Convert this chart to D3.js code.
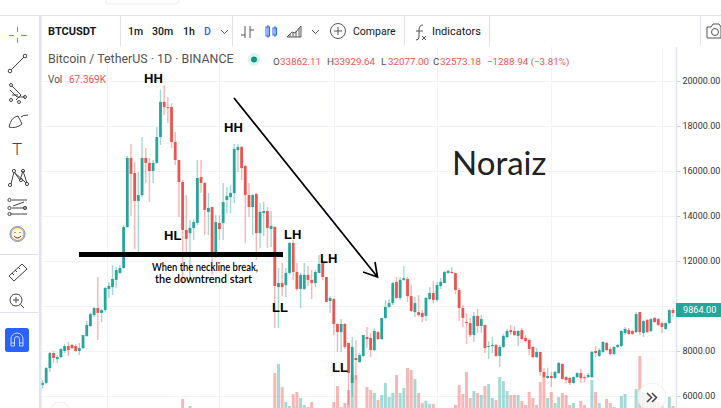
<!DOCTYPE html>
<html><head><meta charset="utf-8">
<script src="https://cdn.jsdelivr.net/npm/d3@7/dist/d3.min.js"></script>
<style>html,body{margin:0;padding:0;background:#fff;overflow:hidden}svg{display:block}text{font-family:Roboto,"Open Sans",sans-serif}</style>
</head><body><svg id="c" width="721" height="408"></svg>
<script>
const opens=[6490,6580,7240,7910,7640,7730,8000,8220,8270,8220,8000,8130,8670,9110,9600,9910,9690,9820,10760,10840,11160,11470,11690,13510,16580,15910,14670,14930,16580,16360,16000,16360,17510,19070,18840,18840,17290,16490,15510,13380,13240,13470,13690,15730,15470,14180,14400,12360,13690,13690,14710,14840,15020,16930,17070,16220,14930,14400,14980,13240,14130,14220,13420,13510,10840,11020,10930,11470,12800,11510,10760,10760,11380,11160,11020,11470,11910,11290,10220,10310,9200,8840,9200,8360,6580,7690,7510,7780,8620,8580,8040,8840,8530,9470,9960,10130,11070,10360,11160,11200,10440,9730,9730,9690,9560,10310,10580,10270,10890,11020,11470,11510,11470,10710,9910,9290,9240,8710,9560,9110,9160,8180,8220,8270,7780,8180,8620,8930,8890,8670,8930,8580,8490,8180,7730,7960,7070,6800,6890,6800,7020,7420,6840,6800,6580,6840,7020,6840,6840,6840,8000,7780,7960,8360,8090,7870,8180,8220,8800,8930,8890,8840,9730,8800,9380,8890,9470,9420,9240,8980,9240,9820];
const closes=[6580,7240,7910,7690,7730,8090,8220,8040,8130,8000,8130,8710,9160,9640,9910,9690,9820,10800,10890,11200,11600,11690,13510,16580,15870,14670,14930,16580,16360,16000,16360,17510,19070,18840,18800,17290,16490,15510,13380,12980,13470,13730,15690,15470,14270,14360,12360,13730,13420,14620,14890,15020,16980,17070,16130,14930,14400,14930,13240,14180,14220,13470,13560,10890,11020,10840,11470,12800,11510,10760,11380,11380,11160,11020,11510,11870,11290,10180,10360,9200,8840,9200,8180,7020,8180,7600,7820,8710,8530,8040,8890,8530,9470,9960,10130,11020,10360,11160,11240,10440,9780,10130,9600,9510,10360,10580,10270,10930,11070,11510,11560,11470,10710,9910,9470,9240,8710,9560,9110,9420,8130,8220,8270,7780,8180,8670,8890,8840,8710,8890,8530,8440,8090,7730,7960,7070,6840,6890,6800,7070,7470,6760,6710,6580,6840,7020,6800,6800,6930,7960,7910,8040,8400,8040,7870,8180,8270,8890,8980,8760,8760,9640,8840,9330,8840,9420,9290,9160,9070,9240,9820,9690];
const highs=[6710,7290,7960,8000,7820,8130,8310,8400,8310,8310,8360,8710,9330,9690,9960,11290,9870,10840,11070,11820,11730,11820,13600,16670,17200,16400,15960,17510,17020,16580,16490,17960,19600,19820,19290,19020,17730,16490,15600,14930,13820,13870,16490,16490,15510,15020,14400,14040,14040,15470,15290,15380,17200,17200,17110,16270,15470,14980,15020,14580,14620,14400,14220,13560,11690,11910,11690,12840,12930,11910,11470,11910,11780,11600,11600,12270,12040,11290,10440,10360,9240,9420,9240,8360,8620,8490,7910,8710,9070,8800,9020,8890,9470,10270,10310,11070,11290,11290,11780,11290,10930,10400,10490,9820,10400,10840,11110,11070,11240,11560,11600,11730,11470,10800,10040,9690,9470,9730,9870,9600,9160,8440,8620,8310,8270,8760,8980,9160,9110,8930,9020,8710,8580,8220,8130,7960,7240,7240,7070,7110,7510,7470,6890,6840,6890,7070,7200,6930,7020,8000,8220,8130,8440,8400,8180,8220,8310,8930,9070,9020,8930,9730,9730,9380,9420,9470,9510,9470,9290,9290,9870,9910];
const lows=[6310,6530,7070,7470,7470,7690,7910,7780,8090,7960,7820,8090,8620,9070,9510,8490,9290,9730,10360,10490,10800,11420,11640,13470,14000,12530,12400,14840,15470,14620,15470,16310,17160,18490,18130,17020,16270,13960,11020,12180,11160,12930,13600,15020,13160,13160,11380,12130,12930,12930,14130,14130,14580,15960,15600,12800,13960,13160,12040,12580,13110,12580,12620,9020,9020,10440,10400,11380,11160,10670,9910,10710,10890,10310,10840,11470,11160,10180,9690,8710,7960,7960,8090,5600,5960,6710,7470,7730,8130,7730,8000,8490,8490,9420,9910,10040,10310,10270,11110,10180,9730,9510,9510,9290,9330,10270,10130,10180,10760,11020,11420,11420,10530,9330,9070,8310,8620,8400,8800,8800,7910,7640,7910,7730,7290,8130,8580,8710,8670,8220,8490,8360,7820,7690,7690,6890,6800,6760,6400,6760,6980,6710,6580,6490,6530,6800,6580,6620,6800,6800,7730,7730,7910,8000,7820,7820,8130,8180,8710,8710,8710,8800,8710,8620,8800,8840,9240,9110,8800,8930,9200,9510];
const volumes=[0,0,0,0,0,0,0,0,0,0,0,0,0,0,0,0,0,0,0,0,0,0,0,0,0,0,0,0,0,0,0,0,0,0,0,0,0,0,9,0,2,0,0,0,0,0,0,0,0,0,0,0,0,0,0,0,0,0,0,0,0,0,0,35,44,21,6,2,14,16,10,3,1,6,0,0,0,0,0,6,22,1,5,18,34,33,0,0,21,18,15,8,13,25,11,15,33,15,20,40,38,29,15,5,7,4,4,0,0,0,0,0,3,23,14,36,10,17,15,13,22,24,10,8,31,27,17,13,13,13,7,3,16,10,3,26,31,10,16,5,11,15,13,3,5,0,7,3,0,28,16,5,0,9,5,1,0,12,14,0,0,19,52,16,15,8,12,6,3,0,11,2];
const priceTicks=[20000,18000,16000,14000,12000,8000,6000];
const gridPrices=[20000,18000,16000,14000,12000,10000,8000,6000];
const gridCandles=[17.5,48,79,107,138,168];
const lastPrice=9864;
const legendOHLC=[["O","33862.11"],["H","33929.64"],["L","32077.00"],["C","32573.18"]];
const legendChange="\u22121288.94 (\u22123.81%)";
const labels=[["HH",144,83],["HH",224,132],["HL",164,240],["LH",284,239],["LH",320,263],["LL",272,312],["LL",332,372]];
const tfItems=[["1m",128],["30m",152],["1h",183],["D",204]];

const UP="#26a69a",DOWN="#ef5350",INK="#131722",GRAY="#555",LINE="#e0e3eb";
const svg=d3.select("#c");
const xs=d3.scaleLinear().domain([0,opens.length-1]).range([42.5,673]);
const ys=d3.scaleLinear().domain([6000,20000]).range([396,81]);
const vs=d3.scaleLinear().domain([0,100]).range([408,308]);
const idx=d3.range(opens.length);
const col=i=>closes[i]>=opens[i]?UP:DOWN;

// grid
const defs=svg.append("defs");
defs.append("clipPath").attr("id","plot").append("rect").attr("x",41).attr("y",47).attr("width",635).attr("height",361);
svg.append("g").selectAll("line").data(gridPrices).join("line").attr("x1",41).attr("x2",676).attr("y1",d=>Math.round(ys(d))+.5).attr("y2",d=>Math.round(ys(d))+.5).attr("stroke","#f1f3f8");
svg.append("g").selectAll("line").data(gridCandles).join("line").attr("x1",d=>Math.round(xs(d))+.5).attr("x2",d=>Math.round(xs(d))+.5).attr("y1",47).attr("y2",408).attr("stroke","#f1f3f8");

const plot=svg.append("g").attr("clip-path","url(#plot)");
plot.append("g").selectAll("rect").data(idx).join("rect").attr("x",i=>xs(i)-1.5).attr("width",3).attr("y",i=>vs(volumes[i])).attr("height",i=>408-vs(volumes[i])).attr("fill",col).attr("opacity",.42);
plot.append("g").selectAll("line").data(idx).join("line").attr("x1",xs).attr("x2",xs).attr("y1",i=>ys(highs[i])).attr("y2",i=>ys(lows[i])).attr("stroke",col).attr("stroke-width",1.4).attr("opacity",.42);
plot.append("g").selectAll("rect").data(idx).join("rect").attr("x",i=>xs(i)-1.4).attr("width",2.8).attr("y",i=>ys(Math.max(opens[i],closes[i]))).attr("height",i=>Math.max(1,Math.abs(ys(opens[i])-ys(closes[i])))).attr("fill",col);

// price axis
const ax=svg.append("g").attr("transform","translate(676.5,0)").call(d3.axisRight(ys).tickValues(priceTicks).tickFormat(d3.format(".2f")).tickSize(4).tickPadding(2));
ax.select(".domain").remove();
ax.selectAll("line").attr("stroke","#c8ccd6");
ax.selectAll("text").attr("fill","#333").style("font-size","9px");
svg.append("line").attr("x1",676.5).attr("x2",676.5).attr("y1",47).attr("y2",408).attr("stroke",LINE).attr("stroke-width",1.5);
svg.append("rect").attr("x",676).attr("y",303).attr("width",45).attr("height",14).attr("fill",UP);
svg.append("text").attr("x",683).attr("y",313.2).attr("fill","#fff").style("font-size","9.2px").text(lastPrice.toFixed(2));

// chrome
svg.append("line").attr("x1",0).attr("x2",721).attr("y1",15.5).attr("y2",15.5).attr("stroke",LINE);
svg.append("rect").attr("x",39).attr("y",16).attr("width",2.5).attr("height",392).attr("fill","#e0e3eb");
[120.5,232.5,404.5,489.5,700.5].forEach(x=>svg.append("line").attr("x1",x).attr("x2",x).attr("y1",16).attr("y2",46).attr("stroke",LINE));
[[0,38,254.5],[0,38,312.5]].forEach(a=>svg.append("line").attr("x1",a[0]).attr("x2",a[1]).attr("y1",a[2]).attr("y2",a[2]).attr("stroke",LINE));
svg.append("path").attr("d","M106 0 V3 Q106 4 110 4 H176 Q179 4 179 0").attr("fill","#fff").attr("stroke","#eceef2");

// toolbar text
const tb=(t,x,y,fs,fill,w)=>svg.append("text").attr("x",x).attr("y",y).attr("fill",fill).style("font-size",fs+"px").style("font-weight",w||400).text(t);
tb("BTCUSDT",48,35,11,INK,700);
tfItems.forEach(d=>tb(d[0],d[1],35,10.5,d[0]==="D"?"#2962ff":INK,500));
tb("Compare",353,35,10.5,INK,400);
tb("Indicators",432,35,11,INK,400);
const ic=svg.append("g").attr("fill","none").attr("stroke","#555").attr("stroke-width",1);
ic.append("path").attr("d","M221 30 l3.5 3.5 l3.5 -3.5 M312 30 l3.5 3.5 l3.5 -3.5");
ic.append("path").attr("d","M245 26 V38 M245 35 H241 M250 26 V38 M250 30 H254");
ic.append("rect").attr("x",266).attr("y",27).attr("width",3.5).attr("height",9).attr("stroke","#2962ff");
ic.append("rect").attr("x",273).attr("y",28).attr("width",3.5).attr("height",7).attr("stroke","#2962ff");
ic.append("path").attr("d","M268 25 V38 M275 26 V37").attr("stroke","#2962ff");
ic.append("path").attr("d","M287 37 L292 32 L295 33 L301 26 V37 Z M290 34 V37 M293 33 V37 M296 31 V37 M299 28 V37");
ic.append("circle").attr("cx",338).attr("cy",31).attr("r",7.5);
ic.append("path").attr("d","M338 27 V35 M334 31 H342");
ic.append("path").attr("d","M423 25 Q419 25 419 30 V37 Q419 40 416 40 M416 31 H423 M422 36 l4 4 M426 36 l-4 4");
ic.append("path").attr("d","M707 27 H711 L713 24 H719 L721 27 V38 H707 Z");
ic.append("circle").attr("cx",715).attr("cy",32).attr("r",3.5);

// left rail icons
const li=svg.append("g").attr("fill","none").attr("stroke","#444").attr("stroke-width",1);
li.append("path").attr("stroke","#5a8bff").attr("d","M17.5 27 V32 M17.5 38 V43 M9 35.5 H14 M21 35.5 H27");
li.append("path").attr("d","M11 70 L24 57"); li.append("circle").attr("cx",10).attr("cy",71).attr("r",1.8); li.append("circle").attr("cx",25).attr("cy",56).attr("r",1.8);
li.append("path").attr("d","M12 86 L21 95 M10 90 L17 97 H25 M12 95 H18 M16 100 L21 95");
[[11,85],[11,100],[25,97],[19,102]].forEach(p=>li.append("circle").attr("cx",p[0]).attr("cy",p[1]).attr("r",1.5));
li.append("path").attr("d","M9 127 Q11 117 18 116 L22 124 Q16 129 9 127 M21 117 Q23 115 28 115");
tb("T",12,155,17,"#444",300);
li.append("path").attr("d","M11 184 L14 172 L20 180 L23 171 L27 183 M14 172 L26 183"); 
[[10,185],[14,171],[21,180],[23,171],[27,184]].forEach(p=>li.append("circle").attr("cx",p[0]).attr("cy",p[1]).attr("r",1.6));
li.append("path").attr("d","M12 200 H27 M12 208 H27 M10 214 H27 M13 206 L24 202"); 
[[9.5,200],[9.5,208],[9.5,214],[25,208]].forEach(p=>li.append("circle").attr("cx",p[0]).attr("cy",p[1]).attr("r",1.6));
li.append("circle").attr("cx",17.5).attr("cy",234).attr("r",6.5).attr("stroke","#e58b2f").attr("fill","#fff6e0");
li.append("circle").attr("cx",17.5).attr("cy",234).attr("r",7.5).attr("stroke","#6a90d0");
li.append("path").attr("d","M14 236 Q17.5 240 21 236 M15 232 v1 M20 232 v1");
li.append("path").attr("d","M9 276 L22 264 L27 269 L14 281 Z M12 273 l2 2 M15 270 l2 2 M18 267 l2 2");
li.append("circle").attr("cx",16).attr("cy",300).attr("r",6);
li.append("path").attr("d","M20.5 304.5 L24 308 M13 300 H19 M16 297 V303");
svg.append("rect").attr("x",5).attr("y",328).attr("width",24).attr("height",24).attr("rx",2.5).attr("fill","#2962ff");
svg.append("path").attr("d","M11 346 V339 A6 6 0 0 1 23 339 V346 H19.5 V339 A2.5 2.5 0 0 0 14.5 339 V346 Z M11 343 H14.5 M19.5 343 H23").attr("fill","none").attr("stroke","#cfdcff");

// legend
tb("Bitcoin / TetherUS \u00b7 1D \u00b7 BINANCE",48,63,12.4,"#555",400);
svg.append("circle").attr("cx",254).attr("cy",59.5).attr("r",6.5).attr("fill","#dff2ef");
svg.append("circle").attr("cx",254).attr("cy",59.5).attr("r",3).attr("fill","#089981");
const lx=[273,327,381,433];
legendOHLC.forEach((d,i)=>{tb(d[0],lx[i],65,9.8,"#555");tb(d[1],lx[i]+7,65,9.8,"#ef5350");});
tb(legendChange,487,65,9.8,"#ef5350");
tb("Vol",48,83,10,"#555");
tb("67.369K",69,83,10,"#ef5350");

// annotations
labels.forEach(d=>svg.append("text").attr("x",d[1]).attr("y",d[2]).attr("fill","#000").style("font-family","Liberation Sans").style("font-size","13px").style("font-weight",700).text(d[0]));
const body=svg.append("g");
body.append("text").attr("x",152).attr("y",271).attr("fill","#000").attr("textLength",106).attr("lengthAdjust","spacingAndGlyphs").style("font-family","Lato").style("font-size","10.5px").style("font-weight",600).text("When the neckline  break,");
body.append("text").attr("x",155).attr("y",283).attr("fill","#000").attr("textLength",97).attr("lengthAdjust","spacingAndGlyphs").style("font-family","Lato").style("font-size","10.5px").style("font-weight",600).text("the downtrend start");
svg.append("text").attr("x",452).attr("y",175).attr("fill","#222").style("font-family","Lato").style("font-size","33px").text("Noraiz");
svg.append("line").attr("x1",79).attr("x2",283).attr("y1",254.5).attr("y2",254.5).attr("stroke","#000").attr("stroke-width",5);
svg.append("path").attr("d","M234 98 L377.5 277 M363 272 L377.5 277 L375 262").attr("fill","none").attr("stroke","#000").attr("stroke-width",1.7);

// floating buttons
svg.append("circle").attr("cx",652).attr("cy",397).attr("r",14).attr("fill","#fff").attr("fill-opacity",.75).attr("stroke","#eef0f4");
svg.append("path").attr("d","M647 393 l4.5 4.5 l-4.5 4.5 M652 393 l4.5 4.5 l-4.5 4.5").attr("fill","none").attr("stroke","#444").attr("stroke-width",1.5);
svg.append("circle").attr("cx",60).attr("cy",412).attr("r",10).attr("fill","none").attr("stroke","#eef0f4");
</script></body></html>
